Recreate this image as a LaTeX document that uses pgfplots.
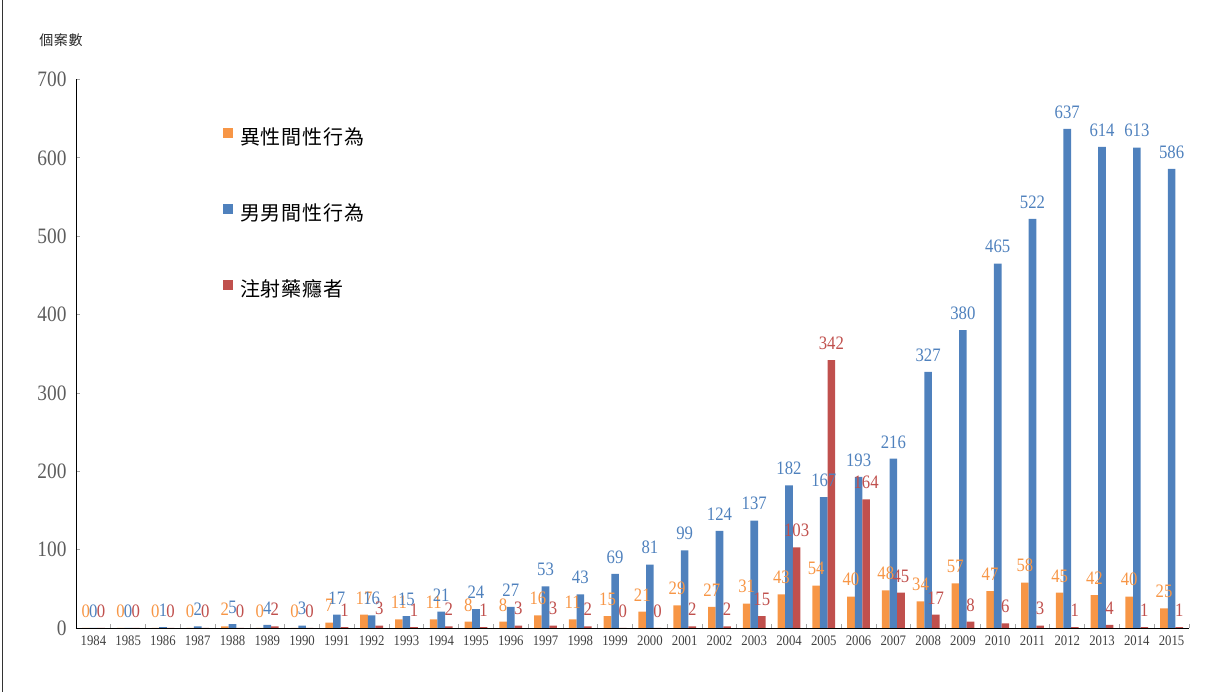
\documentclass[border=0pt]{standalone}
\usepackage{pgfplots}
\usepackage{pgfplotstable}
\pgfplotsset{compat=1.18}
\usepackage{fontspec}
\setmainfont{Liberation Serif}
\newfontfamily\numfont[FakeStretch=0.88]{Liberation Serif}
\newfontfamily\cjk[LetterSpace=4]{Noto Sans CJK TC}

\definecolor{hetC}{HTML}{F79646}
\definecolor{msmC}{HTML}{4F81BD}
\definecolor{iduC}{HTML}{C0504D}
\definecolor{tickC}{HTML}{404040}

% x = category index, year, heterosexual, MSM, injecting drug users
\pgfplotstableread{
x year het msm idu
0 1984 0 0 0
1 1985 0 0 0
2 1986 0 1 0
3 1987 0 2 0
4 1988 2 5 0
5 1989 0 4 2
6 1990 0 3 0
7 1991 7 17 1
8 1992 17 16 3
9 1993 11 15 1
10 1994 11 21 2
11 1995 8 24 1
12 1996 8 27 3
13 1997 16 53 3
14 1998 11 43 2
15 1999 15 69 0
16 2000 21 81 0
17 2001 29 99 2
18 2002 27 124 2
19 2003 31 137 15
20 2004 43 182 103
21 2005 54 167 342
22 2006 40 193 164
23 2007 48 216 45
24 2008 34 327 17
25 2009 57 380 8
26 2010 47 465 6
27 2011 58 522 3
28 2012 45 637 1
29 2013 42 614 4
30 2014 40 613 1
31 2015 25 586 1
}\data

\begin{document}
\begin{tikzpicture}
\begin{axis}[
    at={(76pt,64pt)}, anchor=south west,
    scale only axis,
    width=1113pt, height=548.5pt,
    ybar=0pt, bar width=7.6pt,
    xmin=-0.5, xmax=31.5,
    ymin=0, ymax=700,
    ytick={0,100,...,700},
    xtick={0,...,31},
    xticklabels from table={\data}{year},
    minor xtick={-0.5,0.5,...,31.5},
    axis x line*=bottom, axis y line*=left,
    axis line style={black, line width=0.9pt},
    tick align=inside,
    major tick length=4pt, minor tick length=4pt,
    xtick style={draw=none},
    minor x tick style={draw=gray!70, line width=0.8pt},
    ytick style={draw=gray!70, line width=0.8pt},
    /pgf/number format/assume math mode=true,
    /pgf/number format/1000 sep={},
    xticklabel style={font=\numfont\fontsize{14.5}{15}\selectfont, text=tickC, yshift=-4pt},
    yticklabel style={font=\numfont\fontsize{22}{24}\selectfont, text=tickC!85, xshift=-6pt},
    nodes near coords,
    every node near coord/.append style={font=\numfont\fontsize{19}{20}\selectfont, yshift=7pt},
    legend image code/.code={\fill[#1] (0pt,-1pt) rectangle (10pt,9pt);},
    legend cell align=left,
    legend style={draw=none, fill=none, inner sep=0pt, outer sep=0pt,
        at={(0.1321,0.9125)}, anchor=north west,
        font=\cjk\fontsize{20}{20}\selectfont,
        row sep=56pt,
        nodes={inner sep=0pt, text height=17pt, text depth=3pt},
        /tikz/every even column/.append style={column sep=0pt},
        /tikz/every odd column/.append style={column sep=7pt}},
    clip=false,
]
\addplot[fill=hetC, draw=none,
    every node near coord/.append style={text=hetC}]
    table[x=x, y=het] {\data};
\addplot[fill=msmC, draw=none,
    every node near coord/.append style={text=msmC}]
    table[x=x, y=msm] {\data};
\addplot[fill=iduC, draw=none,
    every node near coord/.append style={text=iduC}]
    table[x=x, y=idu] {\data};
\legend{異性間性行為, 男男間性行為, 注射藥癮者}
\end{axis}
\node[font=\cjk\fontsize{14}{14}\selectfont, text=black!85] at (61pt,652pt) {個案數};
\draw[black!80, line width=1pt] (2.5pt,0pt) -- (2.5pt,692pt);
\pgfresetboundingbox
\useasboundingbox (0,0) rectangle (1208pt,692pt);
\end{tikzpicture}
\end{document}
